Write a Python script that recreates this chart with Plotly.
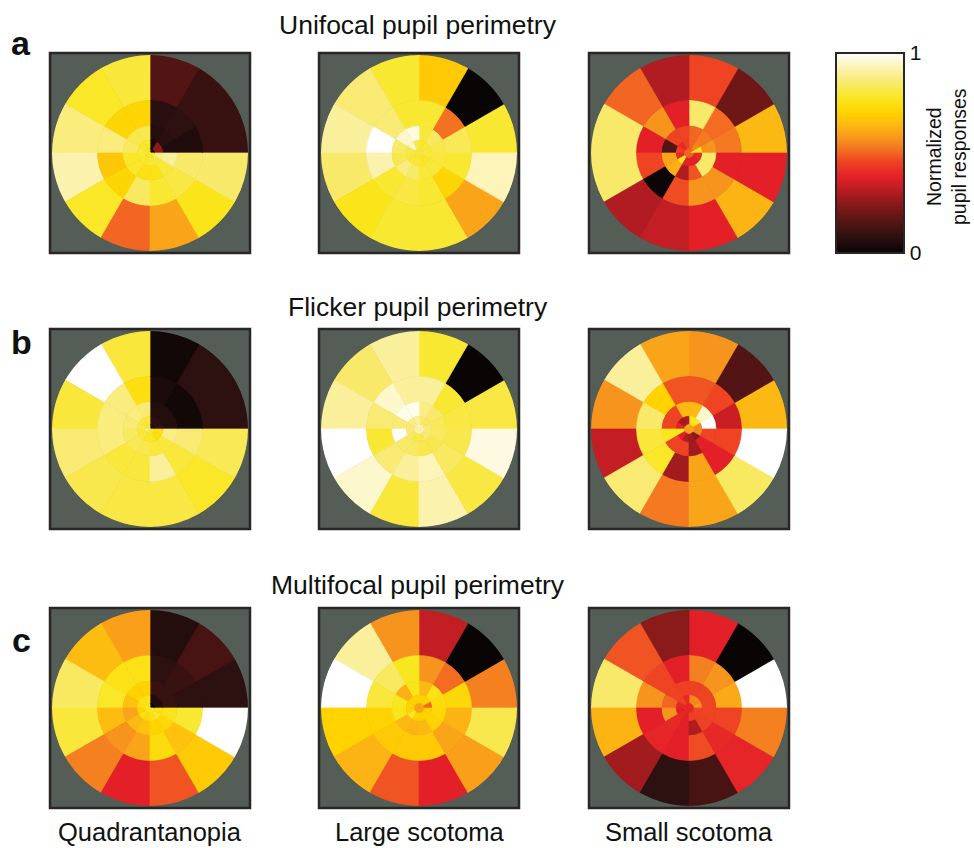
import plotly.graph_objects as go

# Figure size (pixels)
W, H = 974, 848

# Dartboard layout: ring edges (outer radius = 1) and 12 sectors of 30 degrees each,
# sector k spans [30k, 30k+30] degrees counterclockwise from the right.
RING_EDGES = [1.0, 0.535, 0.275, 0.13, 0.045, 0.0]
SECTOR_CENTERS = [15, 45, 75, 105, 135, 165, 195, 225, 255, 285, 315, 345]

# Normalized pupil responses, rings listed from outermost to innermost.
unifocal_quadrantanopia = [
    [0.10, 0.10, 0.15, 0.80, 0.78, 0.87, 0.92, 0.78, 0.50, 0.60, 0.76, 0.85],
    [0.05, 0.08, 0.07, 0.71, 0.71, 0.87, 0.67, 0.71, 0.84, 0.79, 0.81, 0.85],
    [0.05, 0.07, 0.06, 0.82, 0.82, 0.84, 0.78, 0.78, 0.75, 0.75, 0.80, 0.90],
    [0.25, 0.25, 0.02, 0.78, 0.78, 0.80, 0.79, 0.78, 0.78, 0.80, 0.80, 0.88],
    [0.05, 0.05, 0.04, 0.78, 0.78, 0.80, 0.79, 0.78, 0.78, 0.78, 0.78, 0.80],
]
unifocal_large = [
    [0.79, 0.00, 0.68, 0.79, 0.86, 0.90, 0.85, 0.76, 0.79, 0.79, 0.60, 0.93],
    [0.83, 0.52, 0.79, 0.79, 0.86, 1.00, 0.92, 0.79, 0.81, 0.79, 0.71, 0.79],
    [0.82, 0.84, 0.80, 0.97, 0.95, 0.85, 0.82, 0.87, 0.85, 0.80, 0.80, 0.80],
    [0.80, 0.80, 0.78, 0.82, 0.95, 0.82, 0.80, 0.80, 0.80, 0.78, 0.78, 0.80],
    [0.80, 0.80, 0.80, 0.80, 0.80, 0.80, 0.80, 0.80, 0.80, 0.80, 0.80, 0.80],
]
unifocal_small = [
    [0.64, 0.20, 0.46, 0.30, 0.50, 0.85, 0.85, 0.30, 0.33, 0.38, 0.63, 0.38],
    [0.53, 0.51, 0.85, 0.38, 0.57, 0.38, 0.46, 0.01, 0.47, 0.57, 0.57, 0.38],
    [0.57, 0.53, 0.50, 0.46, 0.46, 0.15, 0.60, 0.62, 0.30, 0.48, 0.85, 0.85],
    [0.77, 0.55, 0.50, 0.45, 0.40, 0.45, 0.40, 0.77, 0.38, 0.38, 0.38, 0.40],
    [0.77, 0.50, 0.50, 0.50, 0.50, 0.50, 0.50, 0.50, 0.50, 0.50, 0.50, 0.50],
]
flicker_quadrantanopia = [
    [0.08, 0.08, 0.02, 0.80, 1.00, 0.80, 0.86, 0.82, 0.81, 0.81, 0.78, 0.83],
    [0.02, 0.02, 0.04, 0.74, 0.87, 0.87, 0.87, 0.80, 0.80, 0.90, 0.80, 0.86],
    [0.06, 0.06, 0.06, 0.86, 0.87, 0.86, 0.84, 0.83, 0.82, 0.80, 0.80, 0.88],
    [0.08, 0.08, 0.08, 0.80, 0.80, 0.82, 0.80, 0.80, 0.78, 0.78, 0.74, 0.74],
    [0.05, 0.05, 0.05, 0.80, 0.80, 0.80, 0.95, 0.80, 0.80, 0.80, 0.80, 0.80],
]
flicker_large = [
    [0.81, 0.00, 0.79, 0.90, 0.85, 0.90, 1.00, 0.95, 0.80, 0.92, 0.81, 0.97],
    [0.81, 0.79, 0.90, 0.90, 0.95, 0.86, 0.79, 0.86, 0.90, 0.93, 0.84, 0.82],
    [0.83, 0.85, 0.88, 0.98, 0.98, 0.86, 1.00, 0.85, 0.84, 0.82, 0.82, 0.84],
    [0.86, 0.84, 0.86, 0.90, 0.88, 0.86, 0.86, 0.84, 0.82, 0.82, 0.86, 0.86],
    [0.92, 0.92, 0.92, 0.92, 0.92, 0.92, 0.92, 0.92, 0.92, 0.92, 0.92, 0.92],
]
flicker_small = [
    [0.64, 0.15, 0.57, 0.60, 0.90, 0.57, 0.33, 0.86, 0.53, 0.60, 0.84, 1.00],
    [0.34, 0.46, 0.48, 0.48, 0.70, 0.85, 0.80, 0.78, 0.28, 0.60, 0.38, 0.46],
    [1.00, 0.95, 0.64, 0.64, 0.46, 0.46, 0.77, 0.46, 0.46, 0.28, 0.38, 0.46],
    [0.55, 0.77, 0.77, 0.30, 0.28, 0.38, 0.77, 0.38, 0.30, 0.28, 0.25, 0.55],
    [0.60, 0.60, 0.60, 0.60, 0.60, 0.60, 0.60, 0.60, 0.60, 0.60, 0.60, 0.60],
]
multifocal_quadrantanopia = [
    [0.08, 0.13, 0.06, 0.59, 0.65, 0.84, 0.80, 0.54, 0.38, 0.48, 0.68, 1.00],
    [0.08, 0.10, 0.08, 0.75, 0.75, 0.78, 0.65, 0.57, 0.60, 0.73, 0.66, 0.79],
    [0.10, 0.10, 0.10, 0.70, 0.70, 0.66, 0.60, 0.64, 0.66, 0.70, 0.72, 0.76],
    [0.05, 0.05, 0.05, 0.75, 0.75, 0.75, 0.70, 0.75, 0.72, 0.75, 0.78, 0.75],
    [0.00, 0.00, 0.00, 0.78, 0.78, 0.78, 0.78, 0.78, 0.78, 0.78, 0.78, 0.78],
]
multifocal_large = [
    [0.54, 0.00, 0.33, 0.57, 0.90, 1.00, 0.70, 0.63, 0.48, 0.38, 0.59, 0.82],
    [0.72, 0.51, 0.57, 0.77, 0.84, 0.80, 0.70, 0.68, 0.68, 0.68, 0.60, 0.63],
    [0.73, 0.75, 0.64, 0.76, 0.62, 0.77, 0.76, 0.64, 0.63, 0.64, 0.70, 0.72],
    [0.50, 0.70, 0.70, 0.70, 0.70, 0.70, 0.70, 0.78, 0.70, 0.70, 0.70, 0.70],
    [0.60, 0.60, 0.60, 0.60, 0.60, 0.60, 0.60, 0.60, 0.60, 0.60, 0.60, 0.60],
]
multifocal_small = [
    [1.00, 0.00, 0.38, 0.25, 0.48, 0.85, 0.63, 0.28, 0.08, 0.13, 0.39, 0.54],
    [0.61, 0.57, 0.54, 0.38, 0.46, 0.57, 0.38, 0.39, 0.38, 0.47, 0.40, 0.46],
    [0.46, 0.46, 0.45, 0.45, 0.46, 0.50, 0.57, 0.40, 0.38, 0.30, 0.45, 0.46],
    [0.57, 0.55, 0.55, 0.40, 0.45, 0.40, 0.38, 0.40, 0.38, 0.45, 0.45, 0.46],
    [0.40, 0.40, 0.40, 0.40, 0.40, 0.40, 0.40, 0.40, 0.40, 0.40, 0.40, 0.40],
]

row_titles = ["Unifocal pupil perimetry", "Flicker pupil perimetry", "Multifocal pupil perimetry"]
row_letters = ["a", "b", "c"]
column_labels = ["Quadrantanopia", "Large scotoma", "Small scotoma"]
panels = [
    [unifocal_quadrantanopia, unifocal_large, unifocal_small],
    [flicker_quadrantanopia, flicker_large, flicker_small],
    [multifocal_quadrantanopia, multifocal_large, multifocal_small],
]

# Hot-style colormap
HOT = [
    [0.00, "#0a0505"], [0.08, "#2d1010"], [0.15, "#521414"], [0.25, "#8b1a1a"],
    [0.30, "#b01c22"], [0.38, "#e32028"], [0.46, "#ef4423"], [0.50, "#f26522"],
    [0.57, "#f7941d"], [0.64, "#fdb913"], [0.70, "#ffd200"], [0.77, "#f9e71e"],
    [0.85, "#f9e96a"], [0.92, "#fbf2ae"], [1.00, "#ffffff"],
]

FONT = "Liberation Sans, Arial, Helvetica, sans-serif"
BG = "#545d56"

# Panel squares in pixels
COL_X = [50, 319, 589]
ROW_Y = [53, 329, 608]
SIDE = 200
INSET = 2

fig = go.Figure()
layout_extra = {}
shapes = []

for i in range(3):
    for j in range(3):
        rings = panels[i][j]
        idx = i * 3 + j + 1
        name = "polar" if idx == 1 else f"polar{idx}"
        theta, r, base, color = [], [], [], []
        for k, ring in enumerate(rings):
            outer, inner = RING_EDGES[k], RING_EDGES[k + 1]
            for s, v in enumerate(ring):
                theta.append(SECTOR_CENTERS[s])
                r.append(outer - inner)
                base.append(inner)
                color.append(v)
        fig.add_trace(go.Barpolar(
            theta=theta, r=r, base=base, width=30,
            marker=dict(
                color=color, coloraxis="coloraxis",
                # outline each sector in its own fill colour to hide seams
                line=dict(color=color, colorscale=HOT, cmin=0, cmax=1, width=0.7),
            ),
            subplot=name, showlegend=False, hoverinfo="skip",
        ))
        x0, y0 = COL_X[j], ROW_Y[i]
        layout_extra[name] = dict(
            domain=dict(
                x=[(x0 + INSET) / W, (x0 + SIDE - INSET) / W],
                y=[1 - (y0 + SIDE - INSET) / H, 1 - (y0 + INSET) / H],
            ),
            bgcolor="rgba(0,0,0,0)",
            barmode="overlay", bargap=0, hole=0,
            radialaxis=dict(visible=False, range=[0, 1], showgrid=False),
            angularaxis=dict(visible=False, showgrid=False, direction="counterclockwise", rotation=0),
        )
        shapes.append(dict(
            type="rect", xref="paper", yref="paper",
            x0=x0 / W, x1=(x0 + SIDE) / W, y0=1 - (y0 + SIDE) / H, y1=1 - y0 / H,
            fillcolor=BG, line=dict(color="#2b2626", width=2.5), layer="below",
        ))

annotations = []
title_y = [25, 307, 585]
letter_y = [43, 342, 640]
for i in range(3):
    annotations.append(dict(
        text=row_titles[i], x=418 / W, y=1 - title_y[i] / H, xref="paper", yref="paper",
        xanchor="center", yanchor="middle", showarrow=False,
        font=dict(family=FONT, size=26.5, color="#111111"),
    ))
    annotations.append(dict(
        text=f"<b>{row_letters[i]}</b>", x=21 / W, y=1 - letter_y[i] / H,
        xref="paper", yref="paper", xanchor="center", yanchor="middle", showarrow=False,
        font=dict(family=FONT, size=34, color="#111111"),
    ))
for j in range(3):
    annotations.append(dict(
        text=column_labels[j], x=(COL_X[j] + SIDE / 2) / W, y=1 - 832 / H,
        xref="paper", yref="paper", xanchor="center", yanchor="middle", showarrow=False,
        font=dict(family=FONT, size=25.5, color="#111111"),
    ))
annotations.append(dict(
    text="Normalized<br>pupil responses", x=947 / W, y=1 - 157 / H,
    xref="paper", yref="paper", xanchor="center", yanchor="middle", showarrow=False,
    textangle=-90, align="center",
    font=dict(family=FONT, size=19.5, color="#111111"),
))

fig.update_layout(
    width=W, height=H,
    margin=dict(l=0, r=0, t=0, b=0),
    paper_bgcolor="white", plot_bgcolor="white",
    shapes=shapes, annotations=annotations,
    coloraxis=dict(
        colorscale=HOT, cmin=0, cmax=1,
        colorbar=dict(
            x=836 / W, xanchor="left", y=1 - 153 / H, yanchor="middle",
            lenmode="pixels", len=200, thicknessmode="pixels", thickness=68,
            xpad=0, ypad=0, outlinewidth=2, outlinecolor="#2b2626",
            tickvals=[0, 1], ticktext=["0", "1"], ticks="",
            tickfont=dict(family=FONT, size=21, color="#111111"),
        ),
    ),
    **layout_extra,
)

fig.write_html("out.html")
